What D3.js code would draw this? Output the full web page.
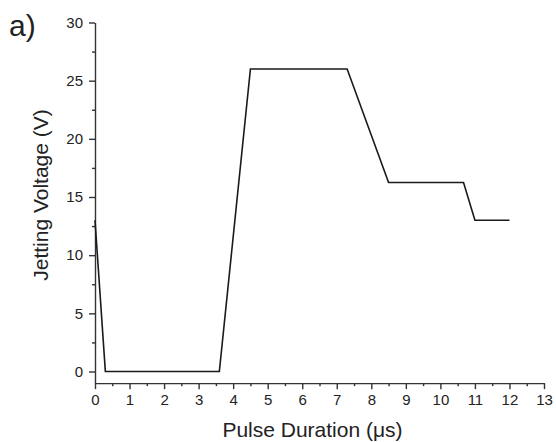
<!DOCTYPE html>
<html lang="en">

<head>
  <meta charset="utf-8">
  <title>Jetting waveform</title>
  <script src="https://d3js.org/d3.v7.min.js"></script>
  <style>
    body { margin: 0; background: #fff; }
    text { font-family: Arial, "Liberation Sans", sans-serif; fill: #222; }
    .axis path, .axis line { stroke: #333; stroke-width: 1.4; }
  </style>
</head>

<body>
  <script>
    // waveform points (us, V)
    var pulseTime = [0, 0.3, 3.6, 4.5, 7.3, 8.5, 10.67, 11, 12];
    var voltage = [13, 0, 0, 26, 26, 16.25, 16.25, 13, 13];
    var xTicks = d3.range(0, 14, 1);
    var yTicks = [0, 5, 10, 15, 20, 25, 30];

    var w = 556, h = 442;
    var svg = d3.select('body').append('svg')
      .attr('width', w)
      .attr('height', h);

    var x = d3.scaleLinear().domain([0, 13]).range([95, 544]);
    var y = d3.scaleLinear().domain([0, 30]).range([371.5, 22.5]);
    var yBottom = y(-1);

    // minor ticks first
    svg.append('g')
      .attr('class', 'axis')
      .attr('transform', 'translate(0,' + yBottom + ')')
      .call(d3.axisBottom(x).tickValues(d3.range(0.5, 13, 1)).tickSize(3).tickFormat('').tickSizeOuter(0))
      .select('.domain').remove();
    svg.append('g')
      .attr('class', 'axis')
      .attr('transform', 'translate(' + x(0) + ',0)')
      .call(d3.axisLeft(y).tickValues(d3.range(2.5, 30, 5)).tickSize(3).tickFormat('').tickSizeOuter(0))
      .select('.domain').remove();

    var xAxis = d3.axisBottom(x).tickValues(xTicks).tickSize(6).tickSizeOuter(0).tickPadding(5);
    svg.append('g')
      .attr('class', 'axis')
      .attr('transform', 'translate(0,' + yBottom + ')')
      .call(xAxis)
      .selectAll('text').style('font-size', '15px');

    var yAxis = d3.axisLeft(d3.scaleLinear().domain([-1, 30]).range([yBottom, y(30)]))
      .tickValues(yTicks).tickSize(6).tickSizeOuter(0).tickPadding(6);
    svg.append('g')
      .attr('class', 'axis')
      .attr('transform', 'translate(' + x(0) + ',0)')
      .call(yAxis)
      .selectAll('text').style('font-size', '15px');

    // the waveform
    var pts = pulseTime.map(function(t, i) { return [t, voltage[i]]; });
    var line = d3.line()
      .x(function(d) { return x(d[0]); })
      .y(function(d) { return y(d[1]); });
    svg.append('path')
      .datum(pts)
      .attr('d', line)
      .attr('fill', 'none')
      .attr('stroke', '#1a1a1a')
      .attr('stroke-width', 1.6);

    svg.append('text')
      .attr('x', (x(0) + x(13)) / 2 - 7)
      .attr('y', 437)
      .attr('text-anchor', 'middle')
      .style('font-size', '21px')
      .text('Pulse Duration (\u03bcs)');

    svg.append('text')
      .attr('transform', 'translate(48,195) rotate(-90)')
      .attr('text-anchor', 'middle')
      .style('font-size', '21px')
      .text('Jetting Voltage (V)');

    svg.append('text')
      .attr('x', 9)
      .attr('y', 36)
      .style('font-size', '30px')
      .text('a)');
  </script>
</body>

</html>
